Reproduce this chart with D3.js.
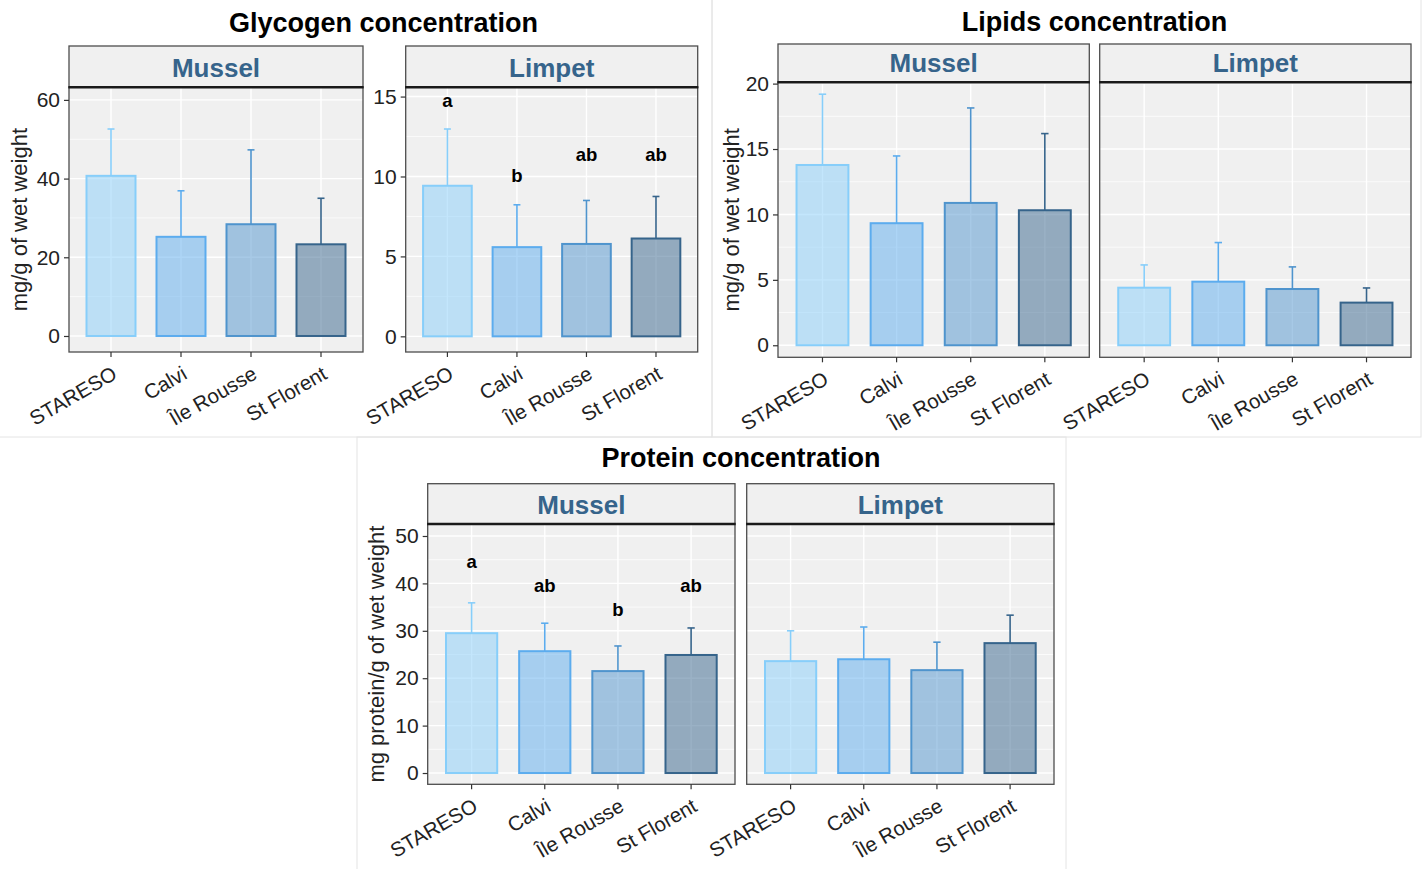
<!DOCTYPE html>
<html>
<head>
<meta charset="utf-8">
<script src="https://cdn.jsdelivr.net/npm/d3@7"></script>
<style>
  body { margin: 0; background: #fff; }
  svg { display: block; font-family: "Liberation Sans", Arial, Helvetica, sans-serif; }
</style>
</head>
<body>
<div id="chart"></div>
<script>
/* data: means and upper SD per site */
const sites = ["STARESO", "Calvi", "Île Rousse", "St Florent"];
const siteColors = ["#87CEFA", "#5CACEE", "#4F94CD", "#36648B"];
const speciesNames = ["Mussel", "Limpet"];

const glycogenMusselMean = [40.7, 25.2, 28.4, 23.3];
const glycogenMusselSd   = [11.9, 11.7, 18.9, 11.7];
const glycogenLimpetMean = [9.42, 5.58, 5.78, 6.12];
const glycogenLimpetSd   = [3.55, 2.65, 2.72, 2.63];
const glycogenLimpetLetters = ["a", "b", "ab", "ab"];
const glycogenLimpetLetterY = [14.75, 10.1, 11.4, 11.4];

const lipidsMusselMean = [13.78, 9.33, 10.88, 10.32];
const lipidsMusselSd   = [5.41, 5.14, 7.26, 5.86];
const lipidsLimpetMean = [4.40, 4.86, 4.30, 3.26];
const lipidsLimpetSd   = [1.74, 2.99, 1.69, 1.12];

const proteinMusselMean = [29.5, 25.7, 21.5, 24.9];
const proteinMusselSd   = [6.4, 5.9, 5.3, 5.7];
const proteinMusselLetters = ["a", "ab", "b", "ab"];
const proteinMusselLetterY = [44.6, 39.6, 34.6, 39.6];
const proteinLimpetMean = [23.6, 24.0, 21.7, 27.4];
const proteinLimpetSd   = [6.4, 6.8, 5.9, 5.9];

const glycogenMusselTicks = [0, 20, 40, 60];
const glycogenLimpetTicks = [0, 5, 10, 15];
const lipidsTicks  = [0, 5, 10, 15, 20];
const proteinTicks = [0, 10, 20, 30, 40, 50];

const W = 1425, H = 869;
const svg = d3.select("#chart").append("svg")
  .attr("width", W).attr("height", H).attr("viewBox", `0 0 ${W} ${H}`);
svg.append("rect").attr("width", W).attr("height", H).attr("fill", "#fff");

const PANEL_BG = "#F0F0F0", BORDER = "#4d4d4d", INK = "#222";

function drawPanel(g, fig, p) {
  const x = d3.scaleBand().domain(sites).range([p.x0, p.x1])
    .paddingInner(0.3).paddingOuter(0.25);
  const y = d3.scaleLinear().domain(p.domain).range([fig.bottom, fig.stripBottom]);
  const rows = sites.map((s, i) => ({
    site: s, mean: p.mean[i], sd: p.sd[i], color: siteColors[i],
    letter: p.letters ? p.letters[i] : null,
    letterY: p.letterY ? p.letterY[i] : null,
  }));
  const minor = d3.pairs(p.ticks).map(([a, b]) => (a + b) / 2);

  // strip
  g.append("rect").attr("x", p.x0).attr("y", fig.stripTop)
    .attr("width", p.x1 - p.x0).attr("height", fig.stripBottom - fig.stripTop)
    .attr("fill", PANEL_BG).attr("stroke", BORDER).attr("stroke-width", 1.3);
  g.append("text").attr("x", (p.x0 + p.x1) / 2).attr("y", fig.stripBottom - 10.3)
    .attr("text-anchor", "middle").style("font-size", "26px").style("font-weight", "bold")
    .style("fill", "#36648B").text(p.name);

  // panel background + grid
  g.append("rect").attr("x", p.x0).attr("y", fig.stripBottom)
    .attr("width", p.x1 - p.x0).attr("height", fig.bottom - fig.stripBottom)
    .attr("fill", PANEL_BG);
  g.append("g").selectAll("line").data(minor).enter().append("line")
    .attr("x1", p.x0).attr("x2", p.x1).attr("y1", d => y(d)).attr("y2", d => y(d))
    .attr("stroke", "#fff").attr("stroke-width", 0.7);
  g.append("g").selectAll("line").data(p.ticks).enter().append("line")
    .attr("x1", p.x0).attr("x2", p.x1).attr("y1", d => y(d)).attr("y2", d => y(d))
    .attr("stroke", "#fff").attr("stroke-width", 1.4);
  g.append("g").selectAll("line").data(sites).enter().append("line")
    .attr("x1", d => x(d) + x.bandwidth() / 2).attr("x2", d => x(d) + x.bandwidth() / 2)
    .attr("y1", fig.stripBottom).attr("y2", fig.bottom)
    .attr("stroke", "#fff").attr("stroke-width", 1.4);

  // bars
  g.append("g").selectAll("rect").data(rows).enter().append("rect")
    .attr("x", d => x(d.site)).attr("width", x.bandwidth())
    .attr("y", d => y(d.mean)).attr("height", d => y(0) - y(d.mean))
    .attr("fill", d => d.color).attr("fill-opacity", 0.5)
    .attr("stroke", d => d.color).attr("stroke-width", 2);

  // upper error bars
  const cap = x.step() * 0.1;
  const eb = g.append("g").selectAll("g").data(rows).enter().append("g")
    .attr("stroke", d => d.color).attr("stroke-width", 1.6);
  eb.append("line")
    .attr("x1", d => x(d.site) + x.bandwidth() / 2).attr("x2", d => x(d.site) + x.bandwidth() / 2)
    .attr("y1", d => y(d.mean)).attr("y2", d => y(d.mean + d.sd));
  eb.append("line")
    .attr("x1", d => x(d.site) + x.bandwidth() / 2 - cap / 2)
    .attr("x2", d => x(d.site) + x.bandwidth() / 2 + cap / 2)
    .attr("y1", d => y(d.mean + d.sd)).attr("y2", d => y(d.mean + d.sd));

  // significance letters
  g.append("g").selectAll("text").data(rows.filter(d => d.letter)).enter().append("text")
    .attr("x", d => x(d.site) + x.bandwidth() / 2).attr("y", d => y(d.letterY))
    .attr("dy", "0.36em").attr("text-anchor", "middle")
    .style("font-size", "18.5px").style("font-weight", "bold").style("fill", "#000")
    .text(d => d.letter);

  // border, strip separator
  g.append("rect").attr("x", p.x0).attr("y", fig.stripBottom)
    .attr("width", p.x1 - p.x0).attr("height", fig.bottom - fig.stripBottom)
    .attr("fill", "none").attr("stroke", BORDER).attr("stroke-width", 1.3);
  g.append("line").attr("x1", p.x0 - 0.6).attr("x2", p.x1 + 0.6)
    .attr("y1", fig.stripBottom).attr("y2", fig.stripBottom)
    .attr("stroke", "#1a1a1a").attr("stroke-width", 2.4);

  // axes
  if (p.yAxis) {
    const ya = g.append("g").attr("transform", `translate(${p.x0},0)`)
      .call(d3.axisLeft(y).tickValues(p.ticks).tickSize(5).tickPadding(4));
    ya.select(".domain").remove();
    ya.selectAll("line").attr("stroke", "#333").attr("stroke-width", 1.2);
    ya.selectAll("text").style("font-size", "21px").style("fill", INK)
      .style("font-family", "inherit");
  }
  const xa = g.append("g").attr("transform", `translate(0,${fig.bottom})`)
    .call(d3.axisBottom(x).tickSize(5));
  xa.select(".domain").remove();
  xa.selectAll("line").attr("stroke", "#333").attr("stroke-width", 1.2);
  xa.selectAll("text")
    .attr("x", 0).attr("y", 0).attr("dy", "0.72em")
    .attr("transform", "translate(0,13) rotate(-30)")
    .attr("text-anchor", "end")
    .style("font-size", "20.5px").style("fill", INK).style("font-family", "inherit");
}

function drawFigure(fig) {
  const g = svg.append("g");
  g.append("rect").attr("x", fig.box[0]).attr("y", fig.box[1])
    .attr("width", fig.box[2] - fig.box[0]).attr("height", fig.box[3] - fig.box[1])
    .attr("fill", "none").attr("stroke", "#e4e4e4").attr("stroke-width", 1);
  g.append("text").attr("x", fig.titleX).attr("y", fig.titleY)
    .attr("text-anchor", "middle").style("font-size", "27px").style("font-weight", "bold")
    .style("fill", "#000").text(fig.title);
  g.append("text")
    .attr("transform", `translate(${fig.yLabelX},${(fig.stripBottom + fig.bottom) / 2}) rotate(-90)`)
    .attr("text-anchor", "middle").style("font-size", "22px").style("fill", INK)
    .text(fig.yLabel);
  fig.panels.forEach(p => drawPanel(g, fig, p));
}

drawFigure({
  title: "Glycogen concentration", titleX: 383.5, titleY: 31.5,
  yLabel: "mg/g of wet weight", yLabelX: 27,
  box: [-1, -1, 712, 437],
  stripTop: 46, stripBottom: 87.3, bottom: 352,
  panels: [
    { name: speciesNames[0], x0: 69, x1: 363, yAxis: true, domain: [-4.07, 63.2],
      ticks: glycogenMusselTicks, mean: glycogenMusselMean, sd: glycogenMusselSd },
    { name: speciesNames[1], x0: 405.7, x1: 697.7, yAxis: true, domain: [-0.98, 15.58],
      ticks: glycogenLimpetTicks, mean: glycogenLimpetMean, sd: glycogenLimpetSd,
      letters: glycogenLimpetLetters, letterY: glycogenLimpetLetterY },
  ],
});

drawFigure({
  title: "Lipids concentration", titleX: 1094.5, titleY: 30.5,
  yLabel: "mg/g of wet weight", yLabelX: 738.5,
  box: [712, -1, 1421, 437],
  stripTop: 44, stripBottom: 82.3, bottom: 357.3,
  panels: [
    { name: speciesNames[0], x0: 778, x1: 1089.3, yAxis: true, domain: [-0.92, 20.1],
      ticks: lipidsTicks, mean: lipidsMusselMean, sd: lipidsMusselSd },
    { name: speciesNames[1], x0: 1099.7, x1: 1411, yAxis: false, domain: [-0.92, 20.1],
      ticks: lipidsTicks, mean: lipidsLimpetMean, sd: lipidsLimpetSd },
  ],
});

drawFigure({
  title: "Protein concentration", titleX: 741, titleY: 467,
  yLabel: "mg protein/g of wet weight", yLabelX: 383.5,
  box: [357, 437, 1066, 870],
  stripTop: 483.7, stripBottom: 524, bottom: 784.3,
  panels: [
    { name: speciesNames[0], x0: 427.7, x1: 735, yAxis: true, domain: [-2.38, 52.53],
      ticks: proteinTicks, mean: proteinMusselMean, sd: proteinMusselSd,
      letters: proteinMusselLetters, letterY: proteinMusselLetterY },
    { name: speciesNames[1], x0: 746.7, x1: 1054, yAxis: false, domain: [-2.38, 52.53],
      ticks: proteinTicks, mean: proteinLimpetMean, sd: proteinLimpetSd },
  ],
});
</script>
</body>
</html>
